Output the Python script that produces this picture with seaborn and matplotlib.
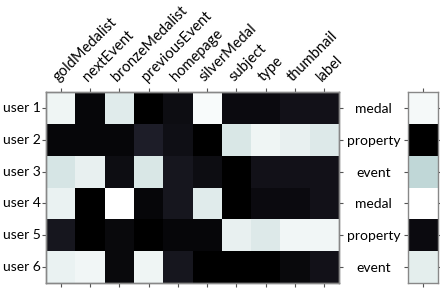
import numpy as np
import pandas as pd
import seaborn as sns
import matplotlib
matplotlib.use("Agg")
import matplotlib.pyplot as plt

props = ['goldMedalist', 'nextEvent', 'bronzeMedalist', 'previousEvent', 'homepage',
         'silverMedal', 'subject', 'type', 'thumbnail', 'label']
users = ['user 1', 'user 2', 'user 3', 'user 4', 'user 5', 'user 6']
classes = ['medal', 'property', 'event', 'medal', 'property', 'event']

u1 = [0.95, 0.03, 0.91, 0.00, 0.06, 0.98, 0.05, 0.05, 0.08, 0.08]
u2 = [0.03, 0.03, 0.03, 0.13, 0.07, 0.00, 0.89, 0.95, 0.93, 0.90]
u3 = [0.88, 0.93, 0.06, 0.89, 0.10, 0.06, 0.00, 0.08, 0.08, 0.08]
u4 = [0.94, 0.00, 1.00, 0.03, 0.10, 0.91, 0.00, 0.05, 0.05, 0.08]
u5 = [0.10, 0.00, 0.04, 0.00, 0.03, 0.03, 0.93, 0.90, 0.96, 0.96]
u6 = [0.94, 0.96, 0.04, 0.95, 0.10, 0.00, 0.00, 0.00, 0.04, 0.08]
side = [0.97, 0.00, 0.82, 1.00, 0.05, 0.92]

df = pd.DataFrame([u1, u2, u3, u4, u5, u6], index=users, columns=props)
sf = pd.DataFrame({'c': side}, index=users)

plt.rcParams['font.family'] = ['Lato', 'DejaVu Sans']
fig = plt.figure(figsize=(4.4, 2.88), dpi=100)
ax = fig.add_axes([0.1045, 0.0174, 0.666, 0.663])
ax2 = fig.add_axes([0.927, 0.0174, 0.068, 0.663])

sns.heatmap(df, ax=ax, cmap='bone', vmin=0, vmax=1, cbar=False)
sns.heatmap(sf, ax=ax2, cmap='bone', vmin=0, vmax=1, cbar=False)

fs = 10
ax.tick_params(axis='x', top=True, bottom=True, labeltop=True, labelbottom=False,
               length=3, color='#555555', labelsize=10.5, pad=3)
ax.set_xticklabels(props, rotation=45, ha='left', rotation_mode='anchor')
ax.tick_params(axis='y', length=3, color='#555555', labelsize=fs, pad=1)
ax.set_yticklabels(users, rotation=0)
ax.set_xlabel('')
ax.set_ylabel('')

tw = ax.twinx()
tw.set_ylim(ax.get_ylim())
tw.set_yticks(np.arange(len(classes)) + 0.5)
tw.set_yticklabels(classes, fontsize=fs, ha='center')
tw.tick_params(axis='y', length=3, color='#555555', pad=22)

ax2.set_xticks([0.5])
ax2.set_xticklabels([])
ax2.set_yticklabels([])
ax2.set_xlabel('')
ax2.set_ylabel('')
ax2.tick_params(axis='x', top=True, bottom=True, length=3, color='#555555')
ax2.tick_params(axis='y', left=True, right=True, length=3, color='#555555')

for a in (ax, ax2, tw):
    for s in a.spines.values():
        s.set_visible(True)
        s.set_color('#888888')
        s.set_linewidth(1)

fig.savefig('out.png', dpi=100)
